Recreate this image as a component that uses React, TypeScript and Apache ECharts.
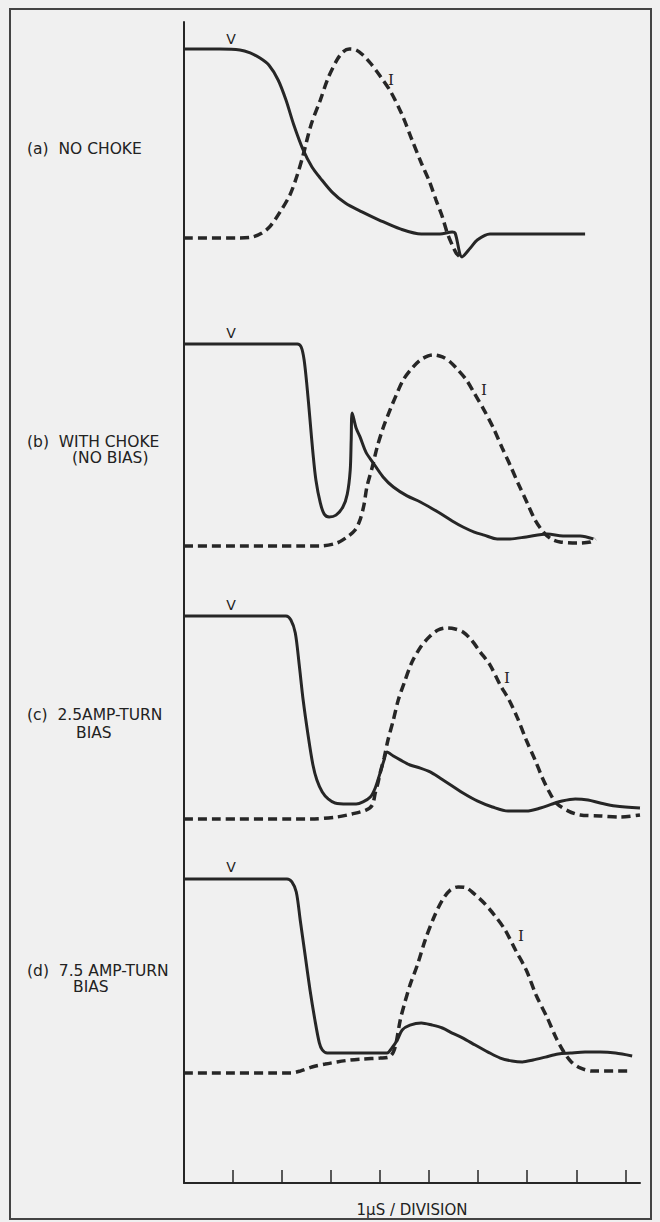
import React, { useEffect, useRef } from "react";
import * as echarts from "echarts";

// x in divisions (1 µs each), y in relative amplitude (0 = I baseline, 10 = V high level)
const xTicks = [1, 2, 3, 4, 5, 6, 7, 8, 9];

const aV = [
  [0, 10.0], [0.73, 10.0], [1.14, 9.95], [1.35, 9.79], [1.55, 9.52], [1.73, 9.15], [1.92, 8.36],
  [2.08, 7.3], [2.24, 5.98], [2.43, 4.66], [2.61, 3.76], [2.78, 3.17], [3.02, 2.43], [3.29, 1.85],
  [3.63, 1.38], [3.98, 0.95], [4.41, 0.48], [4.84, 0.21], [5.22, 0.21], [5.47, 0.32], [5.53, 0.26],
  [5.67, -1.0], [5.84, -0.53], [5.98, -0.11], [6.24, 0.21], [8.18, 0.21],
];
const aI = [
  [0, 0], [1.14, 0], [1.39, 0.05], [1.59, 0.26], [1.76, 0.63], [1.96, 1.38], [2.16, 2.28], [2.31, 3.33],
  [2.43, 4.39], [2.59, 5.98], [2.78, 7.3], [2.94, 8.47], [3.12, 9.42], [3.24, 9.84], [3.37, 10.0],
  [3.51, 9.95], [3.65, 9.68], [3.8, 9.26], [4.0, 8.57], [4.22, 7.72], [4.45, 6.51], [4.65, 5.19],
  [4.84, 3.97], [5.0, 3.02], [5.14, 2.01], [5.27, 1.11], [5.37, 0.26], [5.47, -0.37], [5.55, -0.79],
  [5.63, -1.0],
];
const bV = [
  [0, 10.0], [2.31, 10.0], [2.39, 9.85], [2.45, 9.21], [2.51, 7.87], [2.57, 6.24], [2.63, 4.6],
  [2.69, 3.27], [2.78, 2.13], [2.86, 1.58], [2.96, 1.44], [3.1, 1.53], [3.24, 1.93], [3.33, 2.57],
  [3.39, 3.76], [3.41, 5.25], [3.43, 6.58], [3.51, 5.84], [3.59, 5.4], [3.71, 4.65], [3.86, 4.11],
  [4.06, 3.42], [4.27, 2.92], [4.55, 2.48], [4.82, 2.18], [5.18, 1.68], [5.47, 1.24], [5.69, 0.94],
  [5.92, 0.69], [6.12, 0.54], [6.39, 0.35], [6.65, 0.35], [6.98, 0.45], [7.41, 0.59], [7.73, 0.5],
  [8.08, 0.5], [8.35, 0.35],
];
const bI = [
  [0, 0], [2.78, 0], [3.12, 0.15], [3.33, 0.45], [3.49, 0.79], [3.59, 1.29], [3.67, 2.03], [3.73, 2.92],
  [3.84, 3.91], [3.94, 4.9], [4.06, 5.84], [4.2, 6.73], [4.33, 7.48], [4.47, 8.22], [4.67, 8.86],
  [4.82, 9.21], [4.98, 9.41], [5.1, 9.46], [5.27, 9.36], [5.43, 9.11], [5.59, 8.71], [5.76, 8.22],
  [5.92, 7.57], [6.12, 6.73], [6.31, 5.84], [6.49, 4.85], [6.65, 4.01], [6.82, 3.07], [7.0, 2.13],
  [7.16, 1.29], [7.33, 0.69], [7.49, 0.35], [7.67, 0.2], [8.02, 0.15], [8.29, 0.2], [8.39, 0.35],
];
const cV = [
  [0, 10.0], [2.08, 10.0], [2.18, 9.8], [2.27, 9.16], [2.35, 7.59], [2.43, 5.86], [2.53, 4.14],
  [2.63, 2.66], [2.71, 1.92], [2.82, 1.33], [2.94, 0.99], [3.08, 0.79], [3.33, 0.74], [3.51, 0.74],
  [3.65, 0.84], [3.8, 1.08], [3.9, 1.53], [4.0, 2.27], [4.08, 2.91], [4.14, 3.3], [4.27, 3.1],
  [4.41, 2.91], [4.61, 2.66], [4.82, 2.51], [5.02, 2.32], [5.22, 2.02], [5.47, 1.63], [5.69, 1.28],
  [5.98, 0.89], [6.29, 0.59], [6.61, 0.39], [6.98, 0.39], [7.27, 0.54], [7.51, 0.74], [7.71, 0.89],
  [7.98, 0.99], [8.24, 0.94], [8.49, 0.79], [8.8, 0.64], [9.3, 0.54],
];
const cI = [
  [0, 0], [2.59, 0], [3.12, 0.1], [3.43, 0.25], [3.71, 0.44], [3.84, 0.69], [3.9, 1.28], [3.96, 1.82],
  [4.0, 2.27], [4.08, 3.0], [4.16, 3.89], [4.27, 4.88], [4.37, 5.86], [4.49, 6.7], [4.65, 7.73],
  [4.84, 8.52], [5.02, 9.01], [5.18, 9.31], [5.35, 9.41], [5.53, 9.36], [5.69, 9.21], [5.86, 8.82],
  [6.04, 8.23], [6.24, 7.59], [6.45, 6.6], [6.63, 5.86], [6.8, 4.98], [6.98, 3.89], [7.16, 2.91],
  [7.31, 2.02], [7.45, 1.33], [7.59, 0.79], [7.84, 0.39], [8.08, 0.2], [8.49, 0.15], [8.9, 0.1],
  [9.3, 0.2],
];
const dV = [
  [0, 10.0], [2.1, 10.0], [2.2, 9.85], [2.29, 9.33], [2.37, 7.89], [2.47, 6.08], [2.57, 4.28],
  [2.67, 2.73], [2.76, 1.55], [2.82, 1.19], [2.92, 1.03], [4.14, 1.03], [4.24, 1.29], [4.35, 1.7],
  [4.45, 2.22], [4.61, 2.47], [4.84, 2.58], [5.06, 2.47], [5.27, 2.32], [5.47, 2.06], [5.69, 1.8],
  [5.94, 1.44], [6.2, 1.08], [6.45, 0.77], [6.69, 0.62], [6.9, 0.57], [7.12, 0.67], [7.37, 0.82],
  [7.63, 0.98], [7.88, 1.03], [8.18, 1.08], [8.49, 1.08], [8.8, 1.03], [9.14, 0.88],
];
const dI = [
  [0, 0], [2.18, 0], [2.37, 0.1], [2.61, 0.31], [2.88, 0.46], [3.12, 0.57], [3.39, 0.67], [3.63, 0.72],
  [4.0, 0.77], [4.18, 0.82], [4.27, 1.08], [4.33, 1.6], [4.41, 2.73], [4.49, 3.51], [4.61, 4.54],
  [4.76, 5.57], [4.92, 6.86], [5.1, 8.04], [5.27, 8.92], [5.43, 9.43], [5.59, 9.59], [5.76, 9.54],
  [5.92, 9.23], [6.12, 8.76], [6.33, 8.14], [6.55, 7.37], [6.76, 6.34], [6.98, 5.31], [7.18, 4.02],
  [7.41, 2.84], [7.59, 1.8], [7.76, 1.03], [7.9, 0.57], [8.08, 0.26], [8.33, 0.1], [9.14, 0.1],
];

const panelTitles = [
  ["(a)  NO CHOKE"],
  ["(b)  WITH CHOKE", "(NO BIAS)"],
  ["(c)  2.5AMP-TURN", "BIAS"],
  ["(d)  7.5 AMP-TURN", "BIAS"],
];
const xAxisTitle = "1\u03bcS / DIVISION";

export default function App() {
  const ref = useRef<HTMLDivElement>(null);
  useEffect(() => {
    if (!ref.current) return;
    const chart = echarts.init(ref.current, undefined, { renderer: "svg" });
    const ink = "#262626";
    const FONT = '"DejaVu Sans", sans-serif';
    const LEFT = 184;
    const WIDTH = 456;
    const XMAX = 9.3;
    const panelBoxes = [
      { top: 30.1, height: 245.7 },
      { top: 323.8, height: 262.6 },
      { top: 595.7, height: 263.9 },
      { top: 859.6, height: 252.2 },
    ];
    const panelData = [
      [aV, aI],
      [bV, bI],
      [cV, cI],
      [dV, dI],
    ];
    const grids: any[] = [{ left: LEFT, top: 22, width: WIDTH, height: 1166 }];
    const xAxes: any[] = [
      {
        type: "value",
        gridIndex: 0,
        min: 0,
        max: XMAX,
        axisLine: { show: true, lineStyle: { color: ink, width: 2 } },
        axisTick: {
          show: true,
          inside: true,
          length: 13,
          customValues: xTicks,
          lineStyle: { color: ink, width: 1.5 },
        },
        axisLabel: { show: false },
        splitLine: { show: false },
        name: xAxisTitle,
        nameLocation: "middle",
        nameGap: 19,
        nameTextStyle: { color: "#222", fontSize: 15, fontFamily: FONT },
      },
    ];
    const yAxes: any[] = [
      {
        type: "value",
        gridIndex: 0,
        min: 0,
        max: 1,
        axisLine: { show: true, lineStyle: { color: ink, width: 2 } },
        axisTick: { show: false },
        axisLabel: { show: false },
        splitLine: { show: false },
      },
    ];
    const series: any[] = [];
    panelBoxes.forEach((b, i) => {
      grids.push({ left: LEFT, width: WIDTH, top: b.top, height: b.height });
      xAxes.push({ type: "value", gridIndex: i + 1, min: 0, max: XMAX, show: false });
      yAxes.push({ type: "value", gridIndex: i + 1, min: -2, max: 11, show: false });
      const [v, cur] = panelData[i];
      series.push({
        type: "line",
        xAxisIndex: i + 1,
        yAxisIndex: i + 1,
        data: v,
        showSymbol: false,
        smooth: 0.3,
        lineStyle: { color: ink, width: 3 },
        silent: true,
      });
      series.push({
        type: "line",
        xAxisIndex: i + 1,
        yAxisIndex: i + 1,
        data: cur,
        showSymbol: false,
        smooth: 0.3,
        lineStyle: { color: ink, width: 3.5, type: [9, 5] },
        silent: true,
      });
    });

    const titleY = [[149], [442, 458], [715, 733], [971, 987]];
    const titleX2 = [0, 72, 76, 73];
    const texts: any[] = [];
    panelTitles.forEach((lines, i) => {
      lines.forEach((t, j) => {
        texts.push({
          type: "text",
          x: j === 0 ? 27 : titleX2[i],
          y: titleY[i][j],
          style: { text: t, fill: "#222", font: `15.5px ${FONT}`, verticalAlign: "middle", align: "left" },
        });
      });
    });
    const vPos = [[231, 39], [231, 333], [231, 605], [231, 867]];
    const iPos = [[391, 80], [484, 390], [507, 678], [521, 936]];
    vPos.forEach((p) =>
      texts.push({
        type: "text",
        x: p[0],
        y: p[1],
        style: { text: "V", fill: "#222", font: `14px ${FONT}`, verticalAlign: "middle", align: "center" },
      })
    );
    iPos.forEach((p) =>
      texts.push({
        type: "text",
        x: p[0],
        y: p[1],
        style: { text: "I", fill: "#222", font: '15px "DejaVu Serif", serif', verticalAlign: "middle", align: "center" },
      })
    );

    chart.setOption({
      animation: false,
      backgroundColor: "#f0f0f0",
      grid: grids,
      xAxis: xAxes,
      yAxis: yAxes,
      series,
      graphic: [
        {
          type: "rect",
          shape: { x: 10, y: 9, width: 641, height: 1210 },
          style: { fill: "none", stroke: "#444", lineWidth: 2 },
          silent: true,
        },
        ...texts,
      ],
    });
    return () => chart.dispose();
  }, []);
  return (
    <div
      ref={ref}
      style={{ position: "absolute", left: 0, top: 0, width: 660, height: 1222, background: "#f0f0f0" }}
    />
  );
}
